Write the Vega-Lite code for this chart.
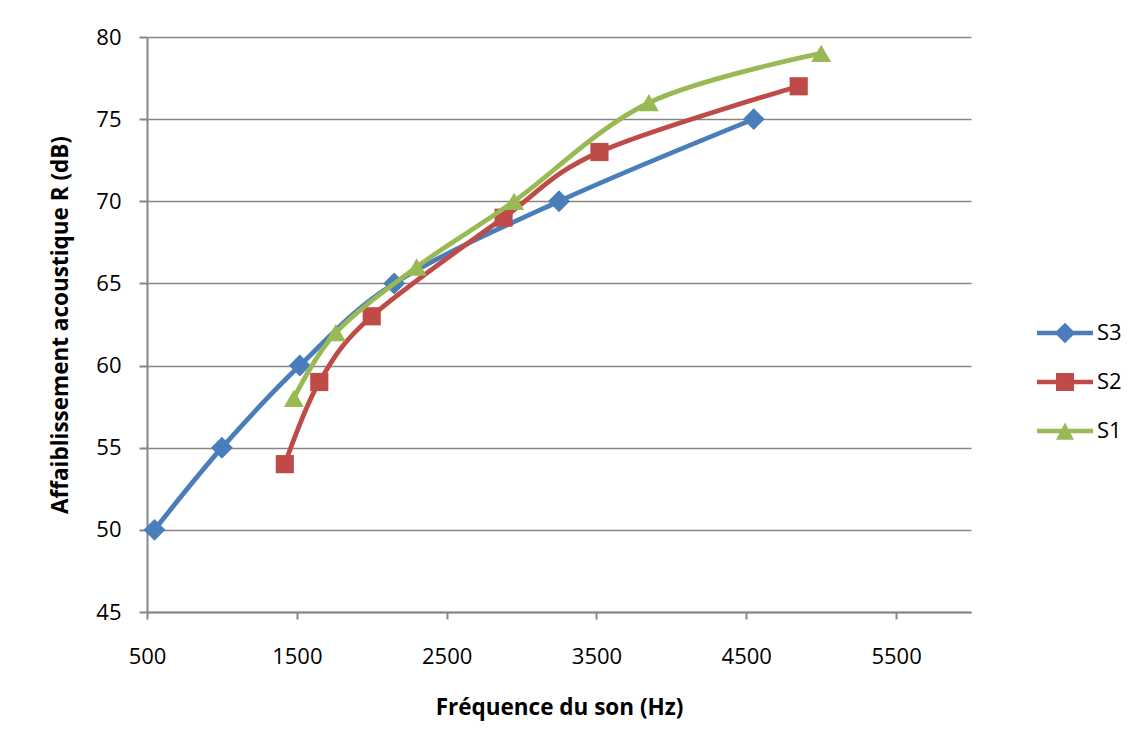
{
  "$schema": "https://vega.github.io/schema/vega-lite/v6.json",
  "width": 824,
  "height": 575,
  "autosize": {"type": "none"},
  "padding": {"left": 147, "top": 37, "right": 168, "bottom": 139},
  "background": "white",
  "config": {
    "view": {"stroke": null},
    "font": "Open Sans",
    "axis": {
      "labelFont": "Open Sans",
      "labelFontSize": 22,
      "labelColor": "#000000",
      "titleFont": "Open Sans",
      "titleFontSize": 22.5,
      "titleFontWeight": "bold",
      "titleColor": "#000000",
      "domainColor": "#868686",
      "domainWidth": 2,
      "tickColor": "#868686",
      "tickWidth": 2,
      "gridColor": "#868686",
      "gridWidth": 1.6
    },
    "legend": {
      "orient": "none",
      "legendX": 904,
      "legendY": 282,
      "padding": 0,
      "symbolSize": 784,
      "rowPadding": 24,
      "labelOffset": 18,
      "labelFont": "Open Sans",
      "labelFontSize": 22,
      "labelColor": "#000000",
      "symbolStrokeWidth": 0,
      "symbolOpacity": 1
    }
  },
  "data": {
    "values": [
      {"series": "S3", "f": 550, "r": 50},
      {"series": "S3", "f": 1000, "r": 55},
      {"series": "S3", "f": 1520, "r": 60},
      {"series": "S3", "f": 2150, "r": 65},
      {"series": "S3", "f": 3250, "r": 70},
      {"series": "S3", "f": 4550, "r": 75},
      {"series": "S2", "f": 1420, "r": 54},
      {"series": "S2", "f": 1650, "r": 59},
      {"series": "S2", "f": 2000, "r": 63},
      {"series": "S2", "f": 2880, "r": 69},
      {"series": "S2", "f": 3520, "r": 73},
      {"series": "S2", "f": 4850, "r": 77},
      {"series": "S1", "f": 1480, "r": 58},
      {"series": "S1", "f": 1760, "r": 62},
      {"series": "S1", "f": 2300, "r": 66},
      {"series": "S1", "f": 2950, "r": 70},
      {"series": "S1", "f": 3850, "r": 76},
      {"series": "S1", "f": 5000, "r": 79}
    ]
  },
  "encoding": {
    "x": {
      "field": "f",
      "type": "quantitative",
      "title": "Fréquence du son (Hz)",
      "scale": {"domain": [500, 6000], "nice": false, "zero": false},
      "axis": {
        "values": [500, 1500, 2500, 3500, 4500, 5500],
        "grid": false,
        "tickSize": 7,
        "labelPadding": 27,
        "titlePadding": 29,
        "format": "d",
        "labelFlush": false
      }
    },
    "y": {
      "field": "r",
      "type": "quantitative",
      "title": "Affaiblissement acoustique R (dB)",
      "scale": {"domain": [45, 80], "nice": false, "zero": false},
      "axis": {
        "values": [45, 50, 55, 60, 65, 70, 75, 80],
        "grid": true,
        "tickSize": 8,
        "labelPadding": 18,
        "titlePadding": 23,
        "labelFlush": false
      }
    }
  },
  "layer": [
    {
      "transform": [{"filter": "datum.series === 'S3'"}],
      "mark": {"type": "line", "interpolate": "cardinal", "strokeWidth": 4.8, "strokeCap": "round", "color": "#4A7EBB"}
    },
    {
      "transform": [{"filter": "datum.series === 'S3'"}],
      "mark": {"type": "point", "filled": true, "opacity": 1, "shape": "diamond", "size": 480, "color": "#4A7EBB"}
    },
    {
      "transform": [{"filter": "datum.series === 'S2'"}],
      "mark": {"type": "line", "interpolate": "cardinal", "strokeWidth": 4.8, "strokeCap": "round", "color": "#BE4B48"}
    },
    {
      "transform": [{"filter": "datum.series === 'S2'"}],
      "mark": {"type": "point", "filled": true, "opacity": 1, "shape": "square", "size": 330, "color": "#BE4B48"}
    },
    {
      "transform": [{"filter": "datum.series === 'S1'"}],
      "mark": {"type": "line", "interpolate": "cardinal", "strokeWidth": 4.8, "strokeCap": "round", "color": "#98B954"}
    },
    {
      "transform": [{"filter": "datum.series === 'S1'"}],
      "mark": {"type": "point", "filled": true, "opacity": 1, "shape": "triangle-up", "size": 400, "color": "#98B954"}
    },
    {
      "transform": [{"filter": "false"}],
      "mark": {"type": "point", "filled": true, "opacity": 1},
      "encoding": {
        "color": {
          "field": "series",
          "type": "nominal",
          "title": null,
          "scale": {"domain": ["S3", "S2", "S1"], "range": ["#4A7EBB", "#BE4B48", "#98B954"]}
        },
        "shape": {
          "field": "series",
          "type": "nominal",
          "title": null,
          "scale": {
            "domain": ["S3", "S2", "S1"],
            "range": [
              "M-2,-0.16H2V0.16H-2Z M0,-0.74L0.74,0L0,0.74L-0.74,0Z",
              "M-2,-0.16H2V0.16H-2Z M-0.64,-0.64H0.64V0.64H-0.64Z",
              "M-2,-0.16H2V0.16H-2Z M0,-0.6L0.64,0.62H-0.64Z"
            ]
          }
        }
      }
    }
  ]
}
